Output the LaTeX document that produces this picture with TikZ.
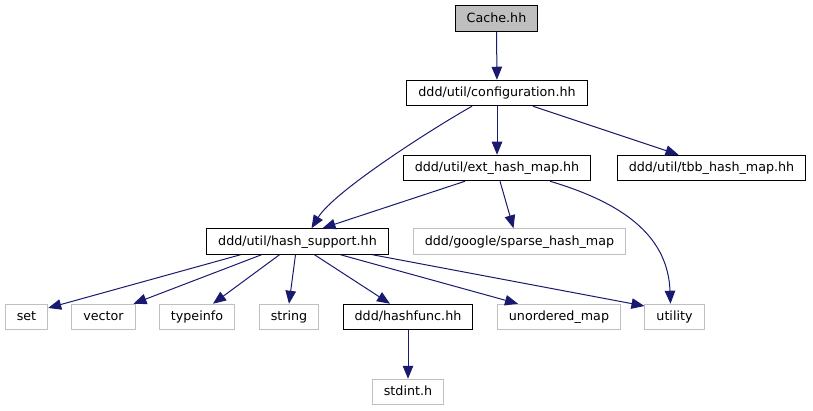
\documentclass[tikz,border=0pt]{standalone}
\usepackage{fontspec}
\setmainfont{DejaVu Sans}
\usetikzlibrary{arrows.meta}
\definecolor{edgeblue}{HTML}{191970}
\definecolor{sysgray}{HTML}{BFBFBF}

\begin{document}
\begin{tikzpicture}[x=1pt, y=-1pt,
  incbox/.style={draw=black, line width=1pt, minimum height=25.5pt,
    inner xsep=11.5pt, inner ysep=0pt, text height=9.5pt, text depth=2pt,
    font=\fontsize{12.7}{15}\selectfont},
  sysbox/.style={incbox, draw=sysgray},
  rootbox/.style={incbox, fill=sysgray},
  dep/.style={draw=edgeblue, line width=1pt,
    -{Triangle[length=13pt, width=10.5pt]}}]
  \useasboundingbox (0,0) rectangle (813,411);
  % project headers
  \node[rootbox] (cache)    at (496.5, 18.5) {Cache.hh};
  \node[incbox]  (config)   at (497, 93)     {ddd/util/configuration.hh};
  \node[incbox]  (ext)      at (497, 168)    {ddd/util/ext\_hash\_map.hh};
  \node[incbox]  (tbb)      at (711.5, 168)  {ddd/util/tbb\_hash\_map.hh};
  \node[incbox]  (hashsup)  at (297.5, 241.5){ddd/util/hash\_support.hh};
  \node[sysbox]  (sparse)   at (519.5, 241.5){ddd/google/sparse\_hash\_map};
  \node[incbox]  (hashfunc) at (408, 317)    {ddd/hashfunc.hh};
  % system headers
  \node[sysbox] (set)       at (26.5, 317)   {set};
  \node[sysbox] (vector)    at (103.5, 317)  {vector};
  \node[sysbox] (typeinfo)  at (197, 317)    {typeinfo};
  \node[sysbox] (string)    at (289, 317)    {string};
  \node[sysbox] (unordered) at (559, 317)    {unordered\_map};
  \node[sysbox] (utility)   at (674.5, 317)  {utility};
  \node[sysbox] (stdint)    at (408, 392)    {stdint.h};

  \draw[dep] (cache) -- (config);
  \draw[dep] ([xshift=-25pt]config.south) .. controls (440,124) and (335,190)
    .. ([xshift=14pt]hashsup.north);
  \draw[dep] (config) -- (ext);
  \draw[dep] ([xshift=36pt]config.south) -- ([xshift=-33pt]tbb.north);
  \draw[dep] ([xshift=-32pt]ext.south) -- ([xshift=25pt]hashsup.north);
  \draw[dep] ([xshift=3pt]ext.south) -- ([xshift=-6pt]sparse.north);
  \draw[dep] ([xshift=53pt]ext.south) .. controls (630,205) and (668,240)
    .. ([xshift=-4pt]utility.north);

  \draw[dep] ([xshift=-57pt]hashsup.south) -- ([yshift=9pt]set.east);
  \draw[dep] ([xshift=-36pt]hashsup.south) -- ([xshift=30pt]vector.north);
  \draw[dep] ([xshift=-18pt]hashsup.south) -- ([xshift=16pt]typeinfo.north);
  \draw[dep] ([xshift=-2pt]hashsup.south) -- (string.north);
  \draw[dep] ([xshift=17pt]hashsup.south) -- ([xshift=-18pt]hashfunc.north);
  \draw[dep] ([xshift=43pt]hashsup.south) -- ([xshift=-41pt]unordered.north);
  \draw[dep] ([xshift=75pt]hashsup.south) -- ([yshift=11pt]utility.west);
  \draw[dep] (hashfunc) -- (stdint);
\end{tikzpicture}
\end{document}
